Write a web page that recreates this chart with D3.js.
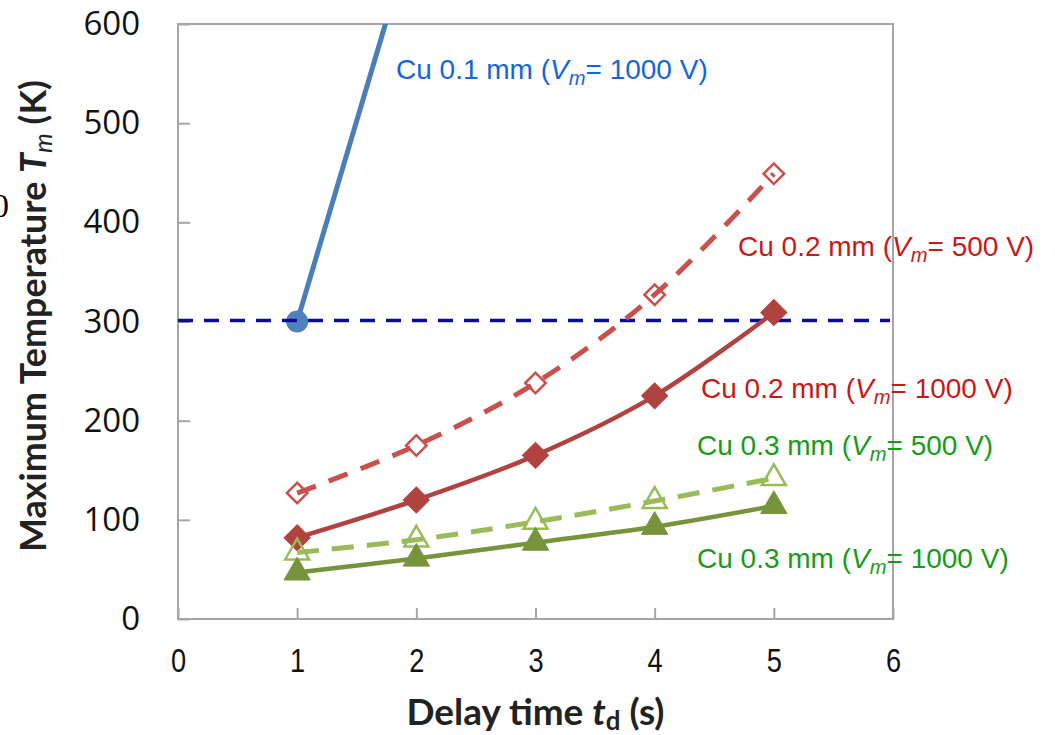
<!DOCTYPE html>
<html>
<head>
<meta charset="utf-8">
<script src="https://cdn.jsdelivr.net/npm/d3@7"></script>
<style>
  html, body { margin: 0; padding: 0; background: #fff; }
  svg { display: block; }
</style>
</head>
<body>
<svg id="chart" width="1055" height="735"></svg>
<script>
// ---- data ----
const delayTimes = [1, 2, 3, 4, 5];                 // t_d (s)
const cu01Times = [1, 2];
const cu01_1000V = [300, 705];                      // Cu 0.1 mm, Vm = 1000 V
const cu02_500V = [127, 175, 238, 327, 449];        // Cu 0.2 mm, Vm = 500 V
const cu02_1000V = [82, 120, 165, 225, 309];        // Cu 0.2 mm, Vm = 1000 V
const cu03_500V = [67, 80, 98, 119, 142];           // Cu 0.3 mm, Vm = 500 V
const cu03_1000V = [47, 61, 77, 93, 114];           // Cu 0.3 mm, Vm = 1000 V
const roomTemperature = [301];                      // reference level (K)
const xTickValues = [0, 1, 2, 3, 4, 5, 6];
const yTickValues = [0, 100, 200, 300, 400, 500, 600];
const labelPrefixes = ["Cu 0.1 mm (", "Cu 0.2 mm (", "Cu 0.2 mm (", "Cu 0.3 mm (", "Cu 0.3 mm ("];
const labelSuffixes = ["= 1000 V)", "= 500 V)", "= 1000 V)", "= 500 V)", "= 1000 V)"];

// ---- layout ----
const svg = d3.select("#chart");
const plot = { left: 178, right: 893, top: 24, bottom: 619 };
const x = d3.scaleLinear().domain([0, 6]).range([plot.left, plot.right]);
const y = d3.scaleLinear().domain([0, 600]).range([plot.bottom, plot.top]);
const frameColor = "#a6a6a6";

svg.append("defs").append("clipPath").attr("id", "plotClip")
  .append("rect")
  .attr("x", plot.left).attr("y", plot.top)
  .attr("width", plot.right - plot.left).attr("height", plot.bottom - plot.top);

// stray glyph at the left edge
svg.append("text")
  .attr("x", 9).attr("y", 217)
  .attr("text-anchor", "end")
  .attr("font-family", "Liberation Serif, serif")
  .attr("font-size", 34)
  .text("0");

// plot frame
svg.append("rect")
  .attr("x", plot.left).attr("y", plot.top)
  .attr("width", plot.right - plot.left).attr("height", plot.bottom - plot.top)
  .attr("fill", "none").attr("stroke", frameColor).attr("stroke-width", 2);

// y axis (ticks point into the plot)
const gy = svg.append("g")
  .attr("transform", `translate(${plot.left},0)`)
  .call(d3.axisLeft(y).tickValues(yTickValues).tickFormat(d3.format("d"))
    .tickSizeInner(-12).tickSizeOuter(0).tickPadding(38));
gy.select(".domain").remove();
gy.selectAll(".tick line").attr("stroke", frameColor).attr("stroke-width", 2);
gy.selectAll(".tick text")
  .attr("font-family", "Open Sans, sans-serif")
  .attr("font-size", 33)
  .attr("fill", "#111");

// x axis
const gx = svg.append("g")
  .attr("transform", `translate(0,${plot.bottom})`)
  .call(d3.axisBottom(x).tickValues(xTickValues).tickFormat(d3.format("d"))
    .tickSizeInner(-11).tickSizeOuter(0).tickPadding(29));
gx.select(".domain").remove();
gx.selectAll(".tick line").attr("stroke", frameColor).attr("stroke-width", 2);
gx.selectAll(".tick text")
  .attr("font-family", "Liberation Sans, Arial, sans-serif")
  .attr("font-size", 34)
  .attr("transform", "scale(0.8,1)")
  .attr("fill", "#111");

// fit a text element's font size to a target length
function fitText(sel, target) {
  const size = +sel.attr("font-size");
  const w = sel.node().getComputedTextLength();
  if (w > 0) sel.attr("font-size", size * target / w);
}

// axis titles
const xTitle = svg.append("text")
  .attr("x", (plot.left + plot.right) / 2).attr("y", 725)
  .attr("text-anchor", "middle")
  .attr("font-family", "Lato, Open Sans, sans-serif")
  .attr("font-weight", "bold")
  .attr("font-size", 32)
  .attr("fill", "#222");
xTitle.append("tspan").text("Delay time ");
xTitle.append("tspan").attr("font-style", "italic").text("t");
xTitle.append("tspan").attr("font-size", "0.7em").attr("dy", "0.18em").text("d");
xTitle.append("tspan").attr("dy", "-0.126em").text(" (s)");
fitText(xTitle, 258);

const yTitle = svg.append("text")
  .attr("transform", "translate(46,316) rotate(-90)")
  .attr("text-anchor", "middle")
  .attr("font-family", "Lato, Open Sans, sans-serif")
  .attr("font-weight", "bold")
  .attr("font-size", 32)
  .attr("fill", "#222");
yTitle.append("tspan").text("Maximum Temperature ");
yTitle.append("tspan").attr("font-style", "italic").text("T");
yTitle.append("tspan").attr("font-style", "italic").attr("font-weight", "normal")
  .attr("font-size", "0.7em").attr("dy", "0.25em").text("m");
yTitle.append("tspan").attr("dy", "-0.175em").text(" (K)");
fitText(yTitle, 472);

// ---- series ----
const plotArea = svg.append("g").attr("clip-path", "url(#plotClip)");
const curve = d3.curveCatmullRom.alpha(0.5);

// Cu 0.1 mm (Vm = 1000 V)
const cu01Points = cu01Times.map((t, i) => [t, cu01_1000V[i]]);
plotArea.append("path")
  .attr("d", d3.line().x(d => x(d[0])).y(d => y(d[1]))(cu01Points))
  .attr("fill", "none").attr("stroke", "#4a7ebb").attr("stroke-width", 5);
svg.append("circle")
  .attr("cx", x(cu01Points[0][0])).attr("cy", y(cu01Points[0][1])).attr("r", 11)
  .attr("fill", "#4f81bd");

// reference level line
svg.selectAll(".refline").data(roomTemperature).join("line")
  .attr("class", "refline")
  .attr("x1", x(0)).attr("x2", x(6) - 3)
  .attr("y1", d => y(d)).attr("y2", d => y(d))
  .attr("stroke", "#0c0c8e").attr("stroke-width", 3.5)
  .attr("stroke-dasharray", "15,11");

const series = [
  { values: cu02_500V, color: "#c8504d", dash: "20,14", width: 5, marker: "diamond", filled: false },
  { values: cu02_1000V, color: "#b0433f", dash: null, width: 4.5, marker: "diamond", filled: true },
  { values: cu03_500V, color: "#9bbb59", dash: "22,13", width: 5, marker: "triangle", filled: false },
  { values: cu03_1000V, color: "#77933c", dash: null, width: 4.5, marker: "triangle", filled: true }
];

const line = d3.line().x((d, i) => x(delayTimes[i])).y(d => y(d)).curve(curve);

series.forEach(s => {
  const g = svg.append("g");
  g.append("path")
    .attr("d", line(s.values))
    .attr("fill", "none")
    .attr("stroke", s.color)
    .attr("stroke-width", s.width)
    .attr("stroke-dasharray", s.dash);

  let sym;
  if (s.marker === "diamond") {
    sym = d3.symbol().type(d3.symbolSquare).size(s.filled ? 340 : 210);
  } else {
    sym = d3.symbol().type(d3.symbolTriangle).size(s.filled ? 300 : 250);
  }
  g.selectAll("path.mk").data(s.values).join("path")
    .attr("class", "mk")
    .attr("d", sym)
    .attr("transform", (d, i) =>
      `translate(${x(delayTimes[i])},${y(d)})` + (s.marker === "diamond" ? " rotate(45)" : ""))
    .attr("fill", s.filled ? s.color : "none")
    .attr("stroke", s.color)
    .attr("stroke-width", s.filled ? 1 : 2.5);
});

// ---- series labels ----
const labelColors = ["#1466d8", "#c81818", "#c81818", "#169c16", "#169c16"];
const labelAnchors = [[396, 79], [738, 256], [701, 398], [697, 455], [697, 568]];

labelPrefixes.forEach((prefix, i) => {
  const t = svg.append("text")
    .attr("x", labelAnchors[i][0]).attr("y", labelAnchors[i][1])
    .attr("font-family", "Liberation Sans, Arial, sans-serif")
    .attr("font-size", 28)
    .attr("fill", labelColors[i]);
  t.append("tspan").text(prefix);
  t.append("tspan").attr("font-style", "italic").text("V");
  t.append("tspan").attr("font-style", "italic").attr("font-size", "0.72em").attr("dy", "0.3em").text("m");
  t.append("tspan").attr("dy", "-0.216em").text(labelSuffixes[i]);
});
</script>
</body>
</html>
